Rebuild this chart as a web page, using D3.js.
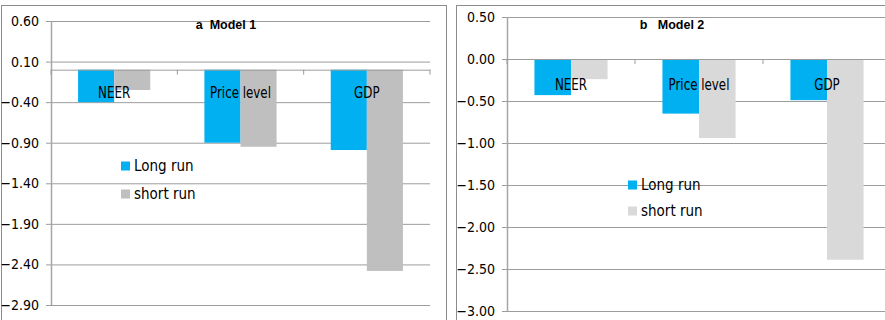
<!DOCTYPE html>
<html>
<head>
<meta charset="utf-8">
<script src="https://cdn.jsdelivr.net/npm/d3@7"></script>
<style>
  html, body { margin: 0; padding: 0; background: #fff; }
  svg { display: block; }
  text { font-family: "Liberation Sans Narrow", "DejaVu Sans Condensed", "Liberation Sans", sans-serif; fill: #000; }
  .title { font-family: "Liberation Sans", sans-serif; font-weight: bold; font-size: 12.5px; white-space: pre; }
</style>
</head>
<body>
<svg id="chart" width="885" height="320"></svg>
<script>
// Elasticities by category, long run vs short run, for two model specifications
const categories = ["NEER", "Price level", "GDP"];
const seriesNames = ["Long run", "short run"];

const model1Long  = [-0.40, -0.90, -0.99];
const model1Short = [-0.25, -0.95, -2.48];
const model2Long  = [-0.43, -0.65, -0.49];
const model2Short = [-0.24, -0.94, -2.39];

const model1Ticks = [0.60, 0.10, -0.40, -0.90, -1.40, -1.90, -2.40, -2.90];
const model2Ticks = [0.50, 0.00, -0.50, -1.00, -1.50, -2.00, -2.50, -3.00];

const svg = d3.select("#chart");

function drawPanel(cfg) {
  const g = svg.append("g");

  // outer chart frame
  g.append("rect")
    .attr("x", cfg.frame[0] + 0.5).attr("y", cfg.frame[1] + 0.5)
    .attr("width", cfg.frame[2]).attr("height", cfg.frame[3])
    .attr("fill", "none").attr("stroke", "#8c8c8c").attr("stroke-width", 1);

  const y = d3.scaleLinear().domain(cfg.yDomain).range(cfg.yRange);
  const x0 = d3.scaleBand().domain(categories).range(cfg.xRange).paddingInner(0).paddingOuter(0);
  const x1 = d3.scaleBand().domain(seriesNames).range([0, x0.bandwidth()])
    .paddingInner(0).paddingOuter(0.75);

  // horizontal gridlines with outward tick marks
  const yAxis = d3.axisLeft(y)
    .tickValues(cfg.ticks)
    .tickFormat(d3.format(".2f"))
    .tickSize(-(cfg.xRange[1] - cfg.xRange[0]))
    .tickPadding(12);
  const ya = g.append("g")
    .attr("transform", `translate(${cfg.xRange[0]},0)`)
    .call(yAxis);
  ya.select(".domain").remove();
  ya.selectAll(".tick line")
    .attr("x1", -5)
    .attr("stroke", "#9c9c9c").attr("stroke-width", 1);
  ya.selectAll(".tick text")
    .attr("font-size", 14)
    .style("font-family", '"Liberation Sans Narrow", "DejaVu Sans Condensed", sans-serif')
    .attr("fill", "#000");

  // vertical value axis line
  g.append("line")
    .attr("x1", cfg.xRange[0] + 0.5).attr("x2", cfg.xRange[0] + 0.5)
    .attr("y1", cfg.yRange[1]).attr("y2", cfg.yRange[0])
    .attr("stroke", "#a6a6a6").attr("stroke-width", 1.5);

  // bars
  const colors = cfg.colors;
  const rows = categories.map((c, i) => ({ cat: c, vals: [cfg.long[i], cfg.short[i]] }));
  const groups = g.append("g").selectAll("g").data(rows).join("g")
    .attr("transform", d => `translate(${x0(d.cat)},0)`);
  groups.selectAll("rect")
    .data(d => d.vals.map((v, j) => ({ s: seriesNames[j], v: v, j: j })))
    .join("rect")
    .attr("x", d => x1(d.s))
    .attr("width", x1.bandwidth())
    .attr("y", d => Math.min(y(0), y(d.v)))
    .attr("height", d => Math.abs(y(d.v) - y(0)))
    .attr("fill", d => colors[d.j]);

  // category axis along zero with downward tick marks
  const xAxis = d3.axisBottom(x0).tickValues([]).tickSizeOuter(0);
  const xa = g.append("g").attr("transform", `translate(0,${y(0)})`).call(xAxis);
  xa.select(".domain").attr("stroke", "#9c9c9c");
  const bounds = categories.map(c => x0(c)).concat([x0(categories[categories.length - 1]) + x0.bandwidth()]);
  g.append("g").selectAll("line").data(bounds).join("line")
    .attr("x1", d => d).attr("x2", d => d)
    .attr("y1", y(0)).attr("y2", y(0) + 5)
    .attr("stroke", "#9c9c9c");

  // category labels (slightly condensed)
  g.append("g").selectAll("text").data(categories).join("text")
    .attr("transform", d => `translate(${x0(d) + x0.bandwidth() / 2},${y(0) + cfg.labelDy}) scale(0.88,1)`)
    .attr("text-anchor", "middle")
    .attr("font-size", 15)
    .text(d => d);

  // title
  g.append("text").attr("class", "title")
    .attr("x", cfg.titlePos[0]).attr("y", cfg.titlePos[1])
    .attr("text-anchor", "middle")
    .text(cfg.title);

  // legend
  const lg = g.append("g").attr("transform", `translate(${cfg.legend[0]},${cfg.legend[1]})`);
  seriesNames.forEach((s, i) => {
    lg.append("rect").attr("x", 0).attr("y", i * cfg.legendStep - 4.5)
      .attr("width", 9).attr("height", 9).attr("fill", colors[i]);
    lg.append("text").attr("x", 13).attr("y", i * cfg.legendStep + 5)
      .attr("font-size", 15).text(s);
  });
}

drawPanel({
  frame: [1, 5, 445, 330],
  yDomain: [-2.9, 0.6], yRange: [305, 21],
  xRange: [51, 430],
  ticks: model1Ticks,
  long: model1Long, short: model1Short,
  colors: ["#00b0f0", "#bfbfbf"],
  labelDy: 28,
  title: "a  Model 1", titlePos: [226, 29],
  legend: [121, 166], legendStep: 28
});

drawPanel({
  frame: [456, 5, 440, 330],
  yDomain: [-3.0, 0.5], yRange: [311, 17],
  xRange: [507, 891],
  ticks: model2Ticks,
  long: model2Long, short: model2Short,
  colors: ["#00b0f0", "#d9d9d9"],
  labelDy: 31,
  title: "b   Model 2", titlePos: [672, 29],
  legend: [628, 185], legendStep: 26
});
</script>
</body>
</html>
